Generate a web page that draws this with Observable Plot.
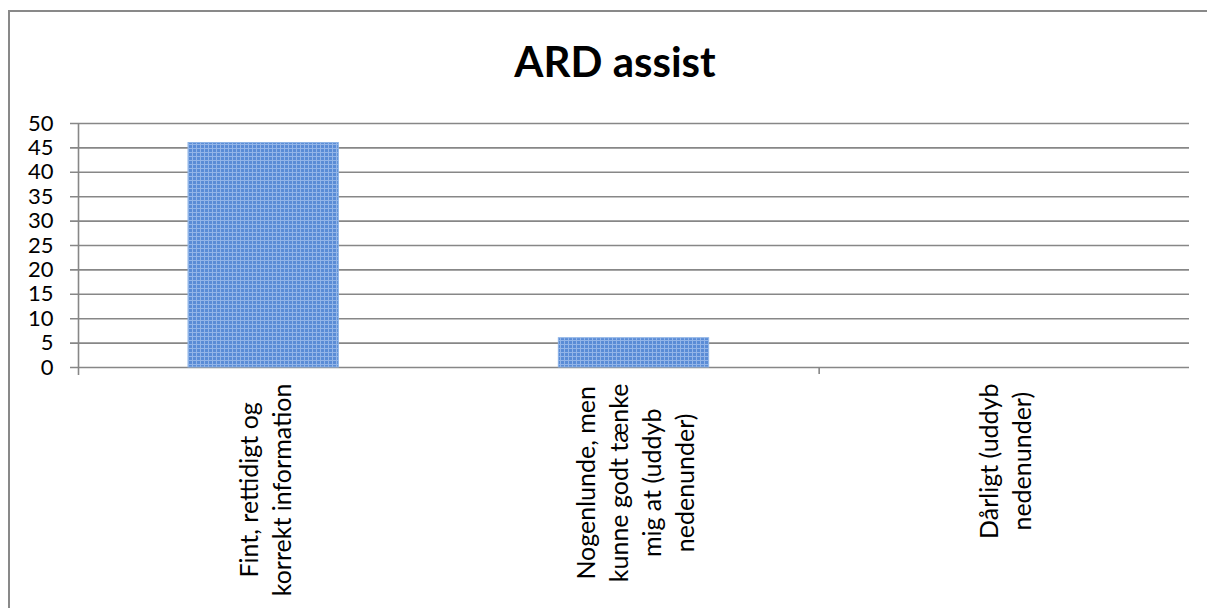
<!DOCTYPE html>
<html>
<head>
<meta charset="utf-8">
<script src="https://cdn.jsdelivr.net/npm/d3@7"></script>
<script src="https://cdn.jsdelivr.net/npm/@observablehq/plot@0.6"></script>
<style>
  html, body { margin: 0; padding: 0; background: #fff; overflow: hidden; }
  #wrap { position: relative; width: 1207px; height: 608px; overflow: hidden; background: #fff; }
  #border { position: absolute; left: 8px; top: 10px; width: 1400px; height: 800px;
            border-top: 2px solid #898989; border-left: 2px solid #898989; }
  #title { position: absolute; left: 0; top: 36px; width: 1207px; padding-left: 23px; box-sizing: border-box;
           text-align: center; font-family: Lato, sans-serif; font-weight: bold; font-size: 42px; line-height: 50px; color: #000; }
  #chart { position: absolute; left: 0; top: 100px; }
</style>
</head>
<body>
<div id="wrap">
  <div id="border"></div>
  <div id="title">ARD assist</div>
  <div id="chart"></div>
</div>
<script>
const titleText = "ARD assist";
const categories = [
  "Fint, rettidigt og korrekt information",
  "Nogenlunde, men kunne godt tænke mig at (uddyb nedenunder)",
  "Dårligt (uddyb nedenunder)"
];
const labelLines = [
  ["Fint, rettidigt og", "korrekt information"],
  ["Nogenlunde, men", "kunne godt tænke", "mig at (uddyb", "nedenunder)"],
  ["Dårligt (uddyb", "nedenunder)"]
];
const values = [46, 6, 0];
const yTicks = [0, 5, 10, 15, 20, 25, 30, 35, 40, 45, 50];

const data = categories.map((c, i) => ({i, category: c, value: values[i], lines: labelLines[i]}));

const labelSize = 25;
const ctx = document.createElement("canvas").getContext("2d");
ctx.font = labelSize + "px Lato";
const maxWidth = lines => Math.max(...lines.map(l => ctx.measureText(l).width));

const gridColor = "#878787";

const labelMarks = data.map(d => Plot.text([d], {
  x: r => r.i + 0.5,
  frameAnchor: "bottom",
  text: r => r.lines.join("\n"),
  rotate: -90,
  textAnchor: "middle",
  lineAnchor: "middle",
  lineHeight: 1.32,
  fontSize: labelSize,
  fill: "#000",
  dy: 16 + maxWidth(d.lines) / 2
}));

const plot = Plot.plot({
  width: 1207,
  height: 508,
  marginLeft: 78,
  marginRight: 18,
  marginTop: 23,
  marginBottom: 241,
  style: {fontFamily: "Lato, sans-serif", fontSize: "22px", color: "#000", background: "transparent", overflow: "visible"},
  x: {type: "linear", domain: [0, categories.length], axis: null},
  y: {domain: [0, 50], ticks: yTicks, label: null},
  marks: [
    Plot.ruleY(yTicks, {stroke: gridColor, strokeWidth: 1.6, insetLeft: -8, strokeOpacity: 1}),
    Plot.ruleX([0], {stroke: gridColor, strokeWidth: 1.6, insetBottom: -8}),
    Plot.ruleX([2], {y1: 0, y2: 0, stroke: gridColor, strokeWidth: 1.6, insetBottom: -7}),
    Plot.rectY(data, {x1: "i", x2: d => d.i + 1, y: "value", insetLeft: 110, insetRight: 110,
      fill: "url(#barPattern)", stroke: "#8db3e6", strokeWidth: 1}),
    Plot.axisY({ticks: yTicks, tickSize: 0, tickPadding: 25, fontSize: 22, fill: "#000", label: null}),
    ...labelMarks
  ]
});

const ns = "http://www.w3.org/2000/svg";
const defs = document.createElementNS(ns, "defs");
const pat = document.createElementNS(ns, "pattern");
pat.setAttribute("id", "barPattern");
pat.setAttribute("patternUnits", "userSpaceOnUse");
pat.setAttribute("width", "4");
pat.setAttribute("height", "4");
const base = document.createElementNS(ns, "rect");
base.setAttribute("width", "4"); base.setAttribute("height", "4"); base.setAttribute("fill", "#5a8cd6");
const h = document.createElementNS(ns, "rect");
h.setAttribute("width", "4"); h.setAttribute("height", "1"); h.setAttribute("fill", "#93b5e8");
const v = document.createElementNS(ns, "rect");
v.setAttribute("width", "1"); v.setAttribute("height", "4"); v.setAttribute("fill", "#93b5e8");
pat.append(base, h, v);
defs.append(pat);
plot.insertBefore(defs, plot.firstChild);

document.getElementById("chart").append(plot);
</script>
</body>
</html>
